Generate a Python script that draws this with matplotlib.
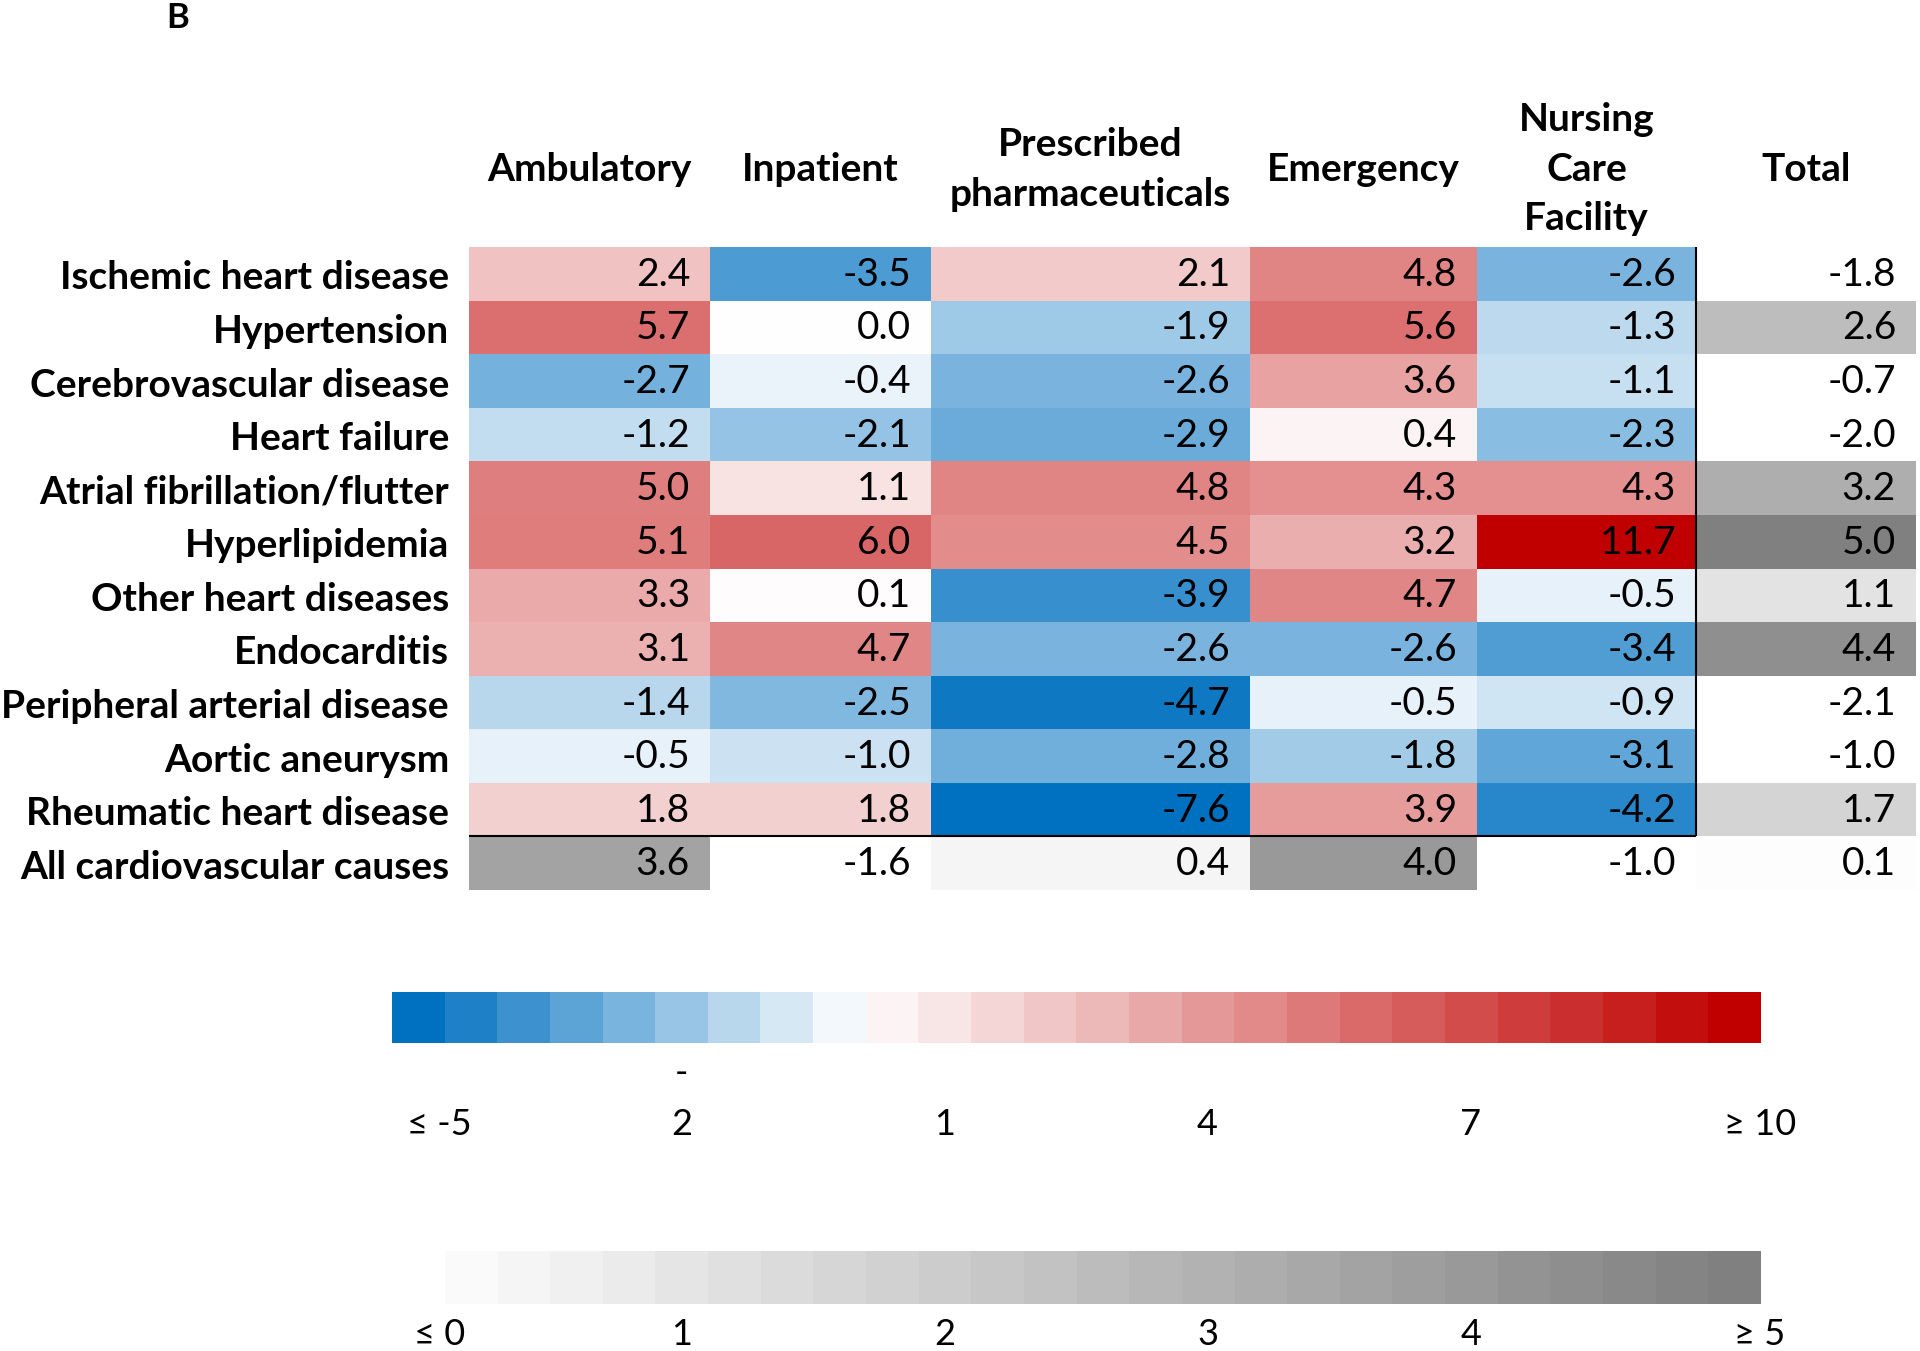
import numpy as np
import matplotlib
matplotlib.use('Agg')
import matplotlib.pyplot as plt
from matplotlib.colors import LinearSegmentedColormap, TwoSlopeNorm, Normalize

plt.rcParams['font.family'] = ['Lato', 'DejaVu Sans']

# data
causes = ['Ischemic heart disease', 'Hypertension', 'Cerebrovascular disease',
          'Heart failure', 'Atrial fibrillation/flutter', 'Hyperlipidemia',
          'Other heart diseases', 'Endocarditis', 'Peripheral arterial disease',
          'Aortic aneurysm', 'Rheumatic heart disease', 'All cardiovascular causes']
settings = ['Ambulatory', 'Inpatient', 'Prescribed\npharmaceuticals',
            'Emergency', 'Nursing\nCare\nFacility', 'Total']

ambulatory = [2.4, 5.7, -2.7, -1.2, 5.0, 5.1, 3.3, 3.1, -1.4, -0.5, 1.8, 3.6]
inpatient = [-3.5, 0.0, -0.4, -2.1, 1.1, 6.0, 0.1, 4.7, -2.5, -1.0, 1.8, -1.6]
prescribed = [2.1, -1.9, -2.6, -2.9, 4.8, 4.5, -3.9, -2.6, -4.7, -2.8, -7.6, 0.4]
emergency = [4.8, 5.6, 3.6, 0.4, 4.3, 3.2, 4.7, -2.6, -0.5, -1.8, 3.9, 4.0]
nursing = [-2.6, -1.3, -1.1, -2.3, 4.3, 11.7, -0.5, -3.4, -0.9, -3.1, -4.2, -1.0]
total = [-1.8, 2.6, -0.7, -2.0, 3.2, 5.0, 1.1, 4.4, -2.1, -1.0, 1.7, 0.1]

rb_legend_labels = ['\u2264 -5', '2', '1', '4', '7', '\u2265 10']
gray_legend_labels = ['\u2264 0', '1', '2', '3', '4', '\u2265 5']

vals = np.array([ambulatory, inpatient, prescribed, emergency, nursing, total]).T
nrow, ncol = vals.shape

# colour scales
rb_cmap = LinearSegmentedColormap.from_list('rb', ['#0070C0', '#FFFFFF', '#C00000'])
rb_norm = TwoSlopeNorm(vmin=-5, vcenter=0, vmax=10)
gr_cmap = LinearSegmentedColormap.from_list('gr', ['#FFFFFF', '#808080'])
gr_norm = Normalize(vmin=0, vmax=5)

# layout (pixels)
W, H = 1920, 1351
col_edges = np.array([0, 241, 462, 781, 1008, 1227, 1447])
FS = 28

fig = plt.figure(figsize=(W / 100, H / 100), dpi=100)
ax = fig.add_axes([469 / W, 1 - 890 / H, 1447 / W, 643 / H])

gray_mask = np.zeros_like(vals, dtype=bool)
gray_mask[:, -1] = True
gray_mask[-1, :] = True
y_edges = np.arange(nrow + 1)

ax.pcolormesh(col_edges, y_edges, np.ma.masked_where(gray_mask, vals),
              cmap=rb_cmap, norm=rb_norm)
ax.pcolormesh(col_edges, y_edges, np.ma.masked_where(~gray_mask, vals),
              cmap=gr_cmap, norm=gr_norm)
ax.set_xlim(0, col_edges[-1])
ax.set_ylim(nrow, 0)

for i in range(nrow):
    for j in range(ncol):
        ax.text(col_edges[j + 1] - 20, i + 0.52, '%.1f' % vals[i, j],
                ha='right', va='center', fontsize=FS)

centers = (col_edges[:-1] + col_edges[1:]) / 2
for j, s in enumerate(settings):
    ax.text(centers[j], -1.45, s, ha='center', va='center', fontsize=FS,
            fontweight='bold', linespacing=1.5)

ax.vlines(col_edges[-2], 0, nrow - 1, color='black', lw=1.5)
ax.hlines(nrow - 1, 0, col_edges[-2], color='black', lw=1.5)

ax.set_xticks([])
ax.set_yticks(np.arange(nrow) + 0.52)
ax.set_yticklabels(causes, fontsize=FS, fontweight='bold')
ax.tick_params(axis='y', length=0, pad=14.4)
for sp in ax.spines.values():
    sp.set_visible(False)

fig.text(178 / W, 1 - 18 / H, 'B', ha='center', va='center', fontsize=25,
         fontweight='bold')

# legends
lab_pos = [0.9, 5.5, 10.5, 15.5, 20.5, 26.0]

lax = fig.add_axes([392 / W, 1 - 1043 / H, 1368 / W, 51 / H])
lax.imshow(np.linspace(-5, 10, 26)[None, :], cmap=rb_cmap, norm=rb_norm,
           extent=(0, 26, 0, 1), aspect='auto')
lax.set_xlim(0, 26)
lax.set_ylim(0, 1)
lax.axis('off')
for x, t in zip(lab_pos, rb_legend_labels):
    lax.text(x, -1.6, t, ha='center', va='center', fontsize=26)
lax.text(lab_pos[1], -0.6, '-', ha='center', va='center', fontsize=26)

gax = fig.add_axes([392 / W, 1 - 1304 / H, 1368 / W, 53 / H])
gax.imshow(np.linspace(0.2, 5, 25)[None, :], cmap=gr_cmap, norm=gr_norm,
           extent=(1, 26, 0, 1), aspect='auto')
gax.set_xlim(0, 26)
gax.set_ylim(0, 1)
gax.axis('off')
for x, t in zip(lab_pos, gray_legend_labels):
    gax.text(x, -0.58, t, ha='center', va='center', fontsize=26)

fig.savefig('out.png', dpi=100)
